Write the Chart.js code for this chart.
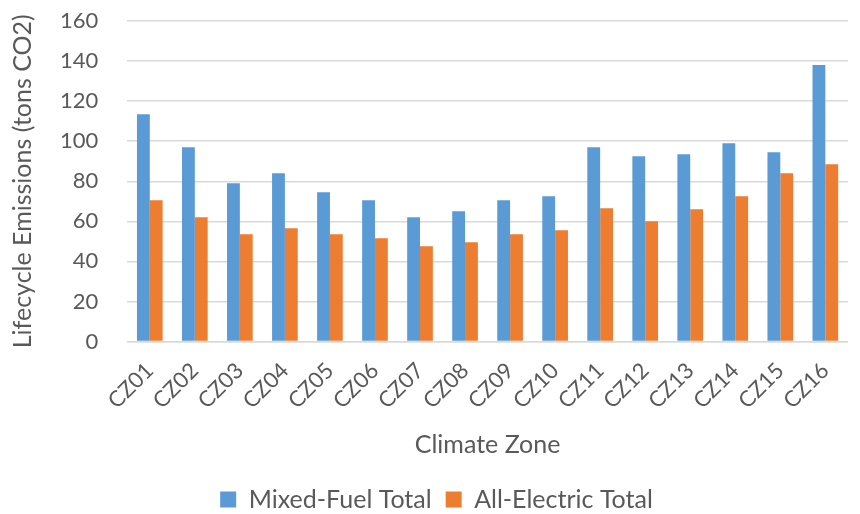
<!DOCTYPE html>
<html>
<head>
<meta charset="utf-8">
<script src="https://cdn.jsdelivr.net/npm/chart.js@4"></script>
<style>
html, body { margin: 0; padding: 0; background: #fff; }
#wrap { width: 860px; height: 514px; }
</style>
</head>
<body>
<div id="wrap"><canvas id="chart" width="860" height="514"></canvas></div>
<script>
const zones = ['CZ01','CZ02','CZ03','CZ04','CZ05','CZ06','CZ07','CZ08','CZ09','CZ10','CZ11','CZ12','CZ13','CZ14','CZ15','CZ16'];
const mixedFuel = [113.5, 97, 79, 84, 74.5, 70.5, 62, 65, 70.5, 72.5, 97, 92.5, 93.5, 99, 94.5, 138];
const allElectric = [70.5, 62, 53.5, 56.5, 53.5, 51.5, 47.5, 49.5, 53.5, 55.5, 66.5, 60, 66, 72.5, 84, 88.5];

const textColor = '#595959';
const fontFam = 'Lato, "Open Sans", sans-serif';

document.addEventListener("DOMContentLoaded", function(){
const ctx = document.getElementById('chart');

new Chart(ctx, {
type: 'bar',
data: {
labels: zones,
datasets: [{
label: 'Mixed-Fuel Total',
data: mixedFuel,
backgroundColor: '#5B9BD5',
borderWidth: 0
},{
label: 'All-Electric Total',
data: allElectric,
backgroundColor: '#ED7D31',
borderWidth: 0
}]
},
options: {
responsive: false,
animation: false,
// negative bottom lets the legend sit lower while keeping its item gap
layout: { padding: { left: 4, right: -9, top: 21, bottom: -8 } },
datasets: { bar: { categoryPercentage: 0.57, barPercentage: 1 } },
plugins: {
legend: {
position: 'bottom',
labels: {
color: textColor,
font: { family: fontFam, size: 25 },
boxWidth: 16,
boxHeight: 16,
padding: 14
}
},
tooltip: { enabled: false }
},
scales: {
x: {
grid: { display: false, drawTicks: false },
border: { color: '#d9d9d9', width: 1.5 },
ticks: {
color: textColor,
font: { family: fontFam, size: 22 },
minRotation: 45,
maxRotation: 45,
padding: 16
},
title: {
display: true,
text: 'Climate Zone',
color: textColor,
font: { family: fontFam, size: 25 },
padding: { top: 0, bottom: 13 }
}
},
y: {
min: 0,
max: 160,
ticks: {
stepSize: 20,
color: textColor,
font: { family: fontFam, size: 22 },
padding: 4
},
grid: { color: '#d9d9d9', lineWidth: 1.5, drawTicks: true, tickLength: 25, tickColor: 'rgba(0,0,0,0)' },
border: { display: false },
title: {
display: true,
text: 'Lifecycle Emissions (tons CO2)',
color: textColor,
font: { family: fontFam, size: 25 },
padding: { top: 4, bottom: 18 }
}
}
}
}
});
});
</script>
</body>
</html>
